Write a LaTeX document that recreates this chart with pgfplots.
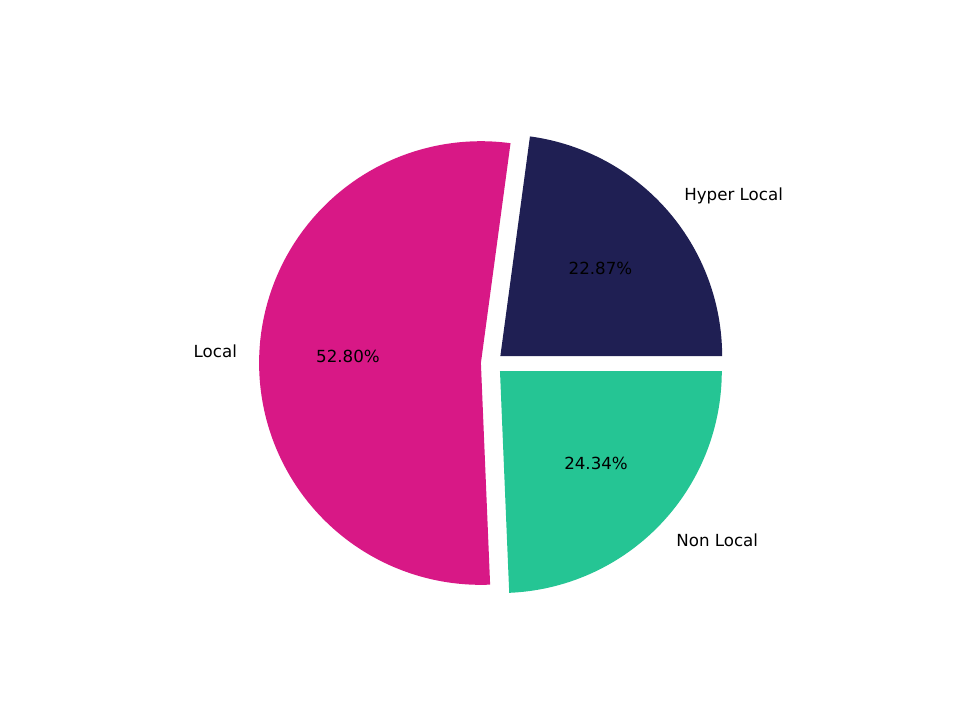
\documentclass[border=0pt]{standalone}
\usepackage{fontspec}
\setmainfont{DejaVu Sans}
\usepackage{pgfplots}
\pgfplotsset{compat=1.18}

\definecolor{hyper}{HTML}{1F1F53}
\definecolor{local}{HTML}{D81886}
\definecolor{nonlocal}{HTML}{25C594}

% shares in percent (Hyper Local, Local, Non Local)
\def\pA{22.87}
\def\pB{52.80}
\def\pC{24.34}
\pgfmathsetmacro{\tot}{\pA+\pB+\pC}
\pgfmathsetmacro{\aA}{\pA/\tot*360}
\pgfmathsetmacro{\aB}{\aA+\pB/\tot*360}
\pgfmathsetmacro{\mA}{\aA/2}
\pgfmathsetmacro{\mB}{(\aA+\aB)/2}
\pgfmathsetmacro{\mC}{(\aB+360)/2}
\def\ex{0.05}

\begin{document}
\begin{tikzpicture}
\begin{axis}[
    scale only axis,
    width=691.2pt, height=518.4pt,
    xmin=-2.218, xmax=2.110,
    ymin=-1.607, ymax=1.639,
    hide axis,
    clip=false,
    font=\fontsize{12}{14}\selectfont,
]
\addplot[fill=hyper, draw=none, domain=0:\aA, samples=120]
    ({\ex*cos(\mA)+cos(x)}, {\ex*sin(\mA)+sin(x)}) -- (axis cs:{\ex*cos(\mA)},{\ex*sin(\mA)}) -- cycle;
\addplot[fill=local, draw=none, domain=\aA:\aB, samples=200]
    ({\ex*cos(\mB)+cos(x)}, {\ex*sin(\mB)+sin(x)}) -- (axis cs:{\ex*cos(\mB)},{\ex*sin(\mB)}) -- cycle;
\addplot[fill=nonlocal, draw=none, domain=\aB:360, samples=120]
    ({\ex*cos(\mC)+cos(x)}, {\ex*sin(\mC)+sin(x)}) -- (axis cs:{\ex*cos(\mC)},{\ex*sin(\mC)}) -- cycle;

\node[anchor=west, inner sep=0pt] at (axis cs:{1.15*cos(\mA)},{1.15*sin(\mA)}) {Hyper Local};
\node[anchor=east, inner sep=0pt] at (axis cs:{1.15*cos(\mB)},{1.15*sin(\mB)}) {Local};
\node[anchor=west, inner sep=0pt] at (axis cs:{1.15*cos(\mC)},{1.15*sin(\mC)}) {Non Local};
\node[inner sep=0pt] at (axis cs:{0.65*cos(\mA)},{0.65*sin(\mA)}) {22.87\%};
\node[inner sep=0pt] at (axis cs:{0.65*cos(\mB)},{0.65*sin(\mB)}) {52.80\%};
\node[inner sep=0pt] at (axis cs:{0.65*cos(\mC)},{0.65*sin(\mC)}) {24.34\%};
\end{axis}
\path (current axis.south west) rectangle (current axis.north east);
\end{tikzpicture}
\end{document}
